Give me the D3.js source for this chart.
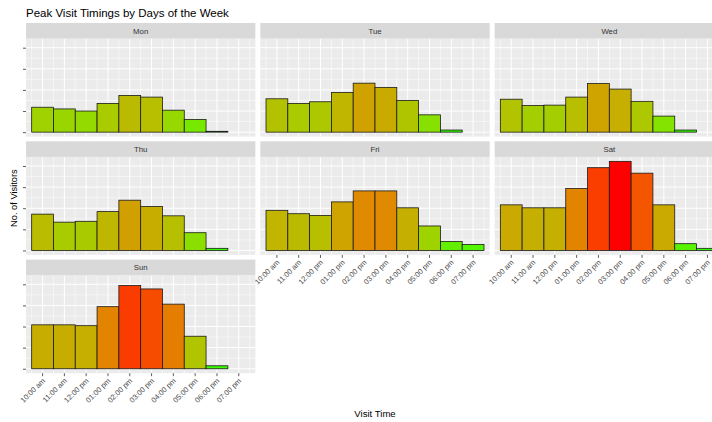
<!DOCTYPE html>
<html><head><meta charset="utf-8">
<script src="https://cdn.jsdelivr.net/npm/d3@7"></script>
<style>
body{margin:0;background:#fff;}
svg{display:block;font-family:"Liberation Sans",Arial,sans-serif;}
</style>
</head><body>
<svg id="chart" width="712" height="422"></svg>
<script>
// ---- data ----
const days = ["Mon","Tue","Wed","Thu","Fri","Sat","Sun"];
const timeLabels = ["10:00 am","11:00 am","12:00 pm","01:00 pm","02:00 pm","03:00 pm","04:00 pm","05:00 pm","06:00 pm","07:00 pm"];
const mon = [59, 55, 50, 68, 87, 83, 52, 30, 2, 0];
const tue = [79, 68, 72, 94, 116, 106, 75, 41, 5, 0];
const wed = [78, 63, 64, 83, 115, 102, 73, 38, 5, 0];
const thu = [86, 67, 69, 92, 119, 104, 82, 42, 5, 0];
const fri = [95, 87, 83, 115, 141, 141, 101, 58, 21, 14];
const sat = [108, 101, 101, 147, 196, 211, 183, 108, 16, 5];
const sun = [104, 104, 102, 147, 197, 189, 153, 77, 7, 0];
const yTicks = [0, 50, 100, 150, 200];
const yMinor = [25, 75, 125, 175];

const series = [mon, tue, wed, thu, fri, sat, sun];

// ---- layout ----
const svg = d3.select("#chart");
const plotLeft = 26, plotRight = 724, colGap = 5;
const ncol = 3;
const colW = (plotRight - plotLeft - colGap * (ncol - 1)) / ncol;
const top0 = 23, stripH = 15.6, panelH = 98, rowGap = 4.7;
const rowH = stripH + panelH + rowGap;

const maxV = d3.max(series.flat());
const y = d3.scaleLinear().domain([-0.05 * maxV, maxV * 1.05]).range([panelH, 0]);
const x = d3.scaleBand().domain(timeLabels).range([0, colW]).paddingInner(0).paddingOuter(0.26);
const color = d3.scaleLinear().domain([0, maxV]).range(["#00FF00", "#FF0000"]).interpolate(d3.interpolateLab);

// title
svg.append("text").attr("x", 26).attr("y", 17.3)
  .attr("font-size", 11.5).attr("fill", "#000")
  .text("Peak Visit Timings by Days of the Week");

days.forEach((day, i) => {
  const col = i % ncol, row = Math.floor(i / ncol);
  const px = plotLeft + col * (colW + colGap);
  const sy = top0 + row * rowH;
  const py = sy + stripH;
  const vals = series[i];
  const g = svg.append("g").attr("transform", `translate(${px},${py})`);

  // strip
  svg.append("rect").attr("x", px).attr("y", sy).attr("width", colW).attr("height", stripH).attr("fill", "#D9D9D9");
  svg.append("text").attr("x", px + colW / 2).attr("y", sy + stripH / 2).attr("dy", "0.35em")
    .attr("text-anchor", "middle").attr("font-size", 7.8).attr("fill", "#333").text(day);

  // panel bg
  g.append("rect").attr("width", colW).attr("height", panelH).attr("fill", "#EBEBEB");

  // minor grid
  yMinor.forEach(t => {
    g.append("line").attr("x1", 0).attr("x2", colW).attr("y1", y(t)).attr("y2", y(t))
      .attr("stroke", "#fff").attr("stroke-width", 0.5);
  });
  const edges = timeLabels.map(l => x(l)).concat([x(timeLabels[timeLabels.length - 1]) + x.bandwidth()]);
  edges.forEach(e => {
    g.append("line").attr("x1", e).attr("x2", e).attr("y1", 0).attr("y2", panelH)
      .attr("stroke", "#fff").attr("stroke-width", 0.5);
  });
  // major grid
  yTicks.forEach(t => {
    g.append("line").attr("x1", 0).attr("x2", colW).attr("y1", y(t)).attr("y2", y(t))
      .attr("stroke", "#fff").attr("stroke-width", 1);
  });
  timeLabels.forEach(l => {
    const cx = x(l) + x.bandwidth() / 2;
    g.append("line").attr("x1", cx).attr("x2", cx).attr("y1", 0).attr("y2", panelH)
      .attr("stroke", "#fff").attr("stroke-width", 1);
  });

  // bars
  g.selectAll("rect.bar").data(vals).enter().append("rect").attr("class", "bar")
    .attr("x", (d, j) => x(timeLabels[j]))
    .attr("width", x.bandwidth())
    .attr("y", d => y(d))
    .attr("height", d => y(0) - y(d))
    .attr("fill", d => color(d))
    .attr("stroke", "#1a1a1a").attr("stroke-width", 0.8);

  // y axis (first column only)
  if (col === 0) {
    const ya = d3.axisLeft(y).tickValues(yTicks).tickSize(3).tickFormat("");
    const ag = g.append("g").call(ya);
    ag.select(".domain").remove();
    ag.selectAll("line").attr("stroke", "#333").attr("stroke-width", 0.8);
  }

  // x axis (bottom panel in each column)
  const isBottom = (i + ncol >= days.length);
  if (isBottom) {
    const xa = d3.axisBottom(x).tickSize(3).tickFormat("");
    const ag = g.append("g").attr("transform", `translate(0,${panelH})`).call(xa);
    ag.select(".domain").remove();
    ag.selectAll("line").attr("stroke", "#333").attr("stroke-width", 0.8);
    timeLabels.forEach(l => {
      const cx = x(l) + x.bandwidth() / 2;
      g.append("text")
        .attr("transform", `translate(${cx + 3},${panelH + 8}) rotate(-45)`)
        .attr("text-anchor", "end").attr("font-size", 7.5).attr("fill", "#4D4D4D")
        .text(l);
    });
  }
});

// axis titles
svg.append("text").attr("transform", `translate(17,${(top0 + top0 + 2 * rowH + stripH + panelH) / 2}) rotate(-90)`)
  .attr("text-anchor", "middle").attr("font-size", 9.3).attr("fill", "#000").text("No. of Visitors");
svg.append("text").attr("x", (plotLeft + plotRight) / 2).attr("y", 417)
  .attr("text-anchor", "middle").attr("font-size", 9.6).attr("fill", "#000").text("Visit Time");
</script>
</body></html>
